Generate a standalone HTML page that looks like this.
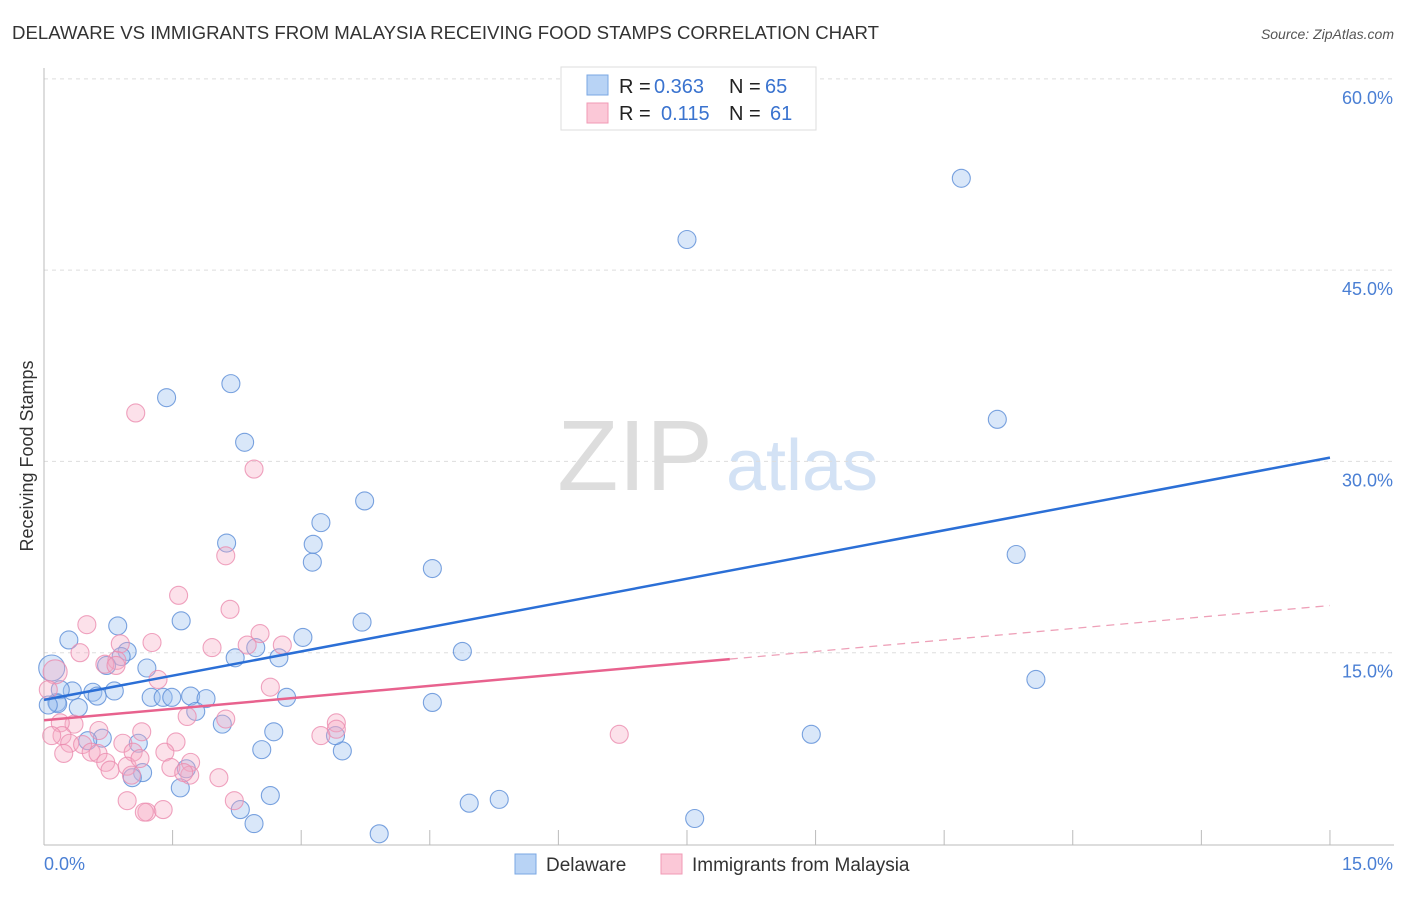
<!DOCTYPE html>
<html><head><meta charset="utf-8"><style>
body{margin:0;background:#fff;font-family:"Liberation Sans",sans-serif;}
svg text{font-family:"Liberation Sans",sans-serif;}
</style></head><body>
<svg width="1406" height="892" viewBox="0 0 1406 892" xmlns="http://www.w3.org/2000/svg">
<text x="12" y="39" font-size="18" fill="#333" textLength="867" lengthAdjust="spacingAndGlyphs">DELAWARE VS IMMIGRANTS FROM MALAYSIA RECEIVING FOOD STAMPS CORRELATION CHART</text>
<text x="1394" y="39" font-size="14" fill="#555" text-anchor="end" font-style="italic">Source: ZipAtlas.com</text>
<g>
<text x="635" y="490" font-size="100" fill="#ddd" text-anchor="middle" font-family="Liberation Serif">ZIP</text>
<text x="802" y="490" font-size="72" fill="#d3e2f5" text-anchor="middle">atlas</text>
</g>
<g id="grid"></g>
<g id="axes"></g>
<g id="pts"></g>
<g id="lines"></g>
<text transform="translate(33,456) rotate(-90)" font-size="18" fill="#333" text-anchor="middle">Receiving Food Stamps</text>
<text x="44" y="870" font-size="18" fill="#4a7fd4">0.0%</text>
<text x="1393" y="870" font-size="18" fill="#4a7fd4" text-anchor="end">15.0%</text>
<g>
<rect x="561" y="67" width="255" height="63" fill="#fff" stroke="#ddd"/>
<rect x="587" y="75" width="21" height="20" fill="#b8d3f5" stroke="#7aa7e3"/>
<rect x="587" y="103" width="21" height="20" fill="#fbc8d7" stroke="#f09ab5"/>
<text x="619" y="93" font-size="20" fill="#222">R =</text>
<text x="654" y="93" font-size="20" fill="#3a73cf">0.363</text>
<text x="729" y="93" font-size="20" fill="#222">N =</text>
<text x="765" y="93" font-size="20" fill="#3a73cf">65</text>
<text x="619" y="120" font-size="20" fill="#222">R =</text>
<text x="661" y="120" font-size="20" fill="#3a73cf">0.115</text>
<text x="729" y="120" font-size="20" fill="#222">N =</text>
<text x="770" y="120" font-size="20" fill="#3a73cf">61</text>
</g>
<g>
<rect x="515" y="854" width="21" height="20" fill="#b8d3f5" stroke="#7aa7e3"/>
<text x="546" y="871" font-size="19" fill="#333">Delaware</text>
<rect x="661" y="854" width="21" height="20" fill="#fbc8d7" stroke="#f09ab5"/>
<text x="692" y="871" font-size="19" fill="#333">Immigrants from Malaysia</text>
</g>
</svg>
<script>
const yTicks=[15,30,45,60];
const yTickLabels=["15.0%","30.0%","45.0%","60.0%"];
const xTicks=[0,1.5,3,4.5,6,7.5,9,10.5,12,13.5,15];
const blueX=[7.50,10.70,11.12,11.34,11.57,8.95,7.59,2.18,1.43,2.34,3.74,3.23,3.14,3.13,2.13,4.53,1.60,3.71,3.02,4.88,4.53,0.29,0.86,0.97,0.90,0.73,1.20,2.23,2.47,2.74,0.33,0.57,0.62,0.82,1.25,1.39,1.49,1.71,1.89,2.83,1.77,0.40,0.15,2.08,2.68,2.54,3.48,3.40,1.10,0.68,0.51,1.15,1.03,1.66,1.59,2.64,2.29,2.45,3.91,4.96,5.31,0.09,0.19,0.16,0.05];
const blueY=[47.4,52.2,33.3,22.7,12.9,8.6,2.0,36.1,35.0,31.5,26.9,25.2,23.5,22.1,23.6,21.6,17.5,17.4,16.2,15.1,11.1,16.0,17.1,15.1,14.7,14.0,13.8,14.6,15.4,14.6,12.0,11.9,11.6,12.0,11.5,11.5,11.5,11.6,11.4,11.5,10.4,10.7,11.1,9.4,8.8,7.4,7.3,8.5,7.9,8.3,8.1,5.6,5.2,5.9,4.4,3.8,2.7,1.6,0.8,3.2,3.5,13.8,12.1,11.0,10.9];
const pinkX=[1.07,2.45,2.12,1.57,2.17,0.50,1.26,0.89,2.52,2.37,2.78,1.96,0.42,0.85,0.71,0.84,1.33,2.64,0.13,0.05,1.67,2.12,3.41,3.41,3.23,6.71,0.35,0.19,0.21,0.09,0.64,1.14,0.30,0.45,0.55,0.23,0.63,0.92,1.04,1.54,1.41,0.72,0.77,0.97,1.02,1.48,1.71,1.70,2.04,0.97,1.20,1.17,1.39,2.22,1.63,1.12];
const pinkY=[33.8,29.4,22.6,19.5,18.4,17.2,15.8,15.7,16.5,15.6,15.6,15.4,15.0,14.4,14.1,14.0,12.9,12.3,13.5,12.1,10.0,9.8,9.5,9.0,8.5,8.6,9.4,9.5,8.5,8.5,8.9,8.8,7.9,7.8,7.2,7.1,7.1,7.9,7.2,8.0,7.2,6.4,5.8,6.1,5.4,6.0,6.4,5.4,5.2,3.4,2.5,2.5,2.7,3.4,5.6,6.7];
const blueTrend=[[0,11.3],[15,30.3]];
const pinkTrendSolid=[[0,9.7],[8,14.5]];
const pinkTrendDash=[[8,14.5],[15,18.7]];
const NS="http://www.w3.org/2000/svg";
const X=v=>44+v*85.73, Y=v=>844-v*12.753;
function mk(t,a,p){const e=document.createElementNS(NS,t);for(const k in a)e.setAttribute(k,a[k]);p.appendChild(e);return e;}
const grid=document.getElementById('grid'),axes=document.getElementById('axes'),pts=document.getElementById('pts'),lines=document.getElementById('lines');
yTicks.forEach((v,i)=>{
 const l=mk('line',{x1:44,x2:1394,y1:Y(v),y2:Y(v),stroke:'#ddd','stroke-dasharray':'4,4'},grid);
 
 
 const t=mk('text',{x:1393,y:Y(v)+25,'font-size':18,fill:'#4a7fd4','text-anchor':'end'},grid);
 t.textContent=yTickLabels[i];
 
 
});
const ax=mk('line',{x1:44,x2:44,y1:68,y2:845,stroke:'#bbb'},axes);


const bx=mk('line',{x1:44,x2:1394,y1:845,y2:845,stroke:'#bbb'},axes);


xTicks.forEach(v=>{
 const t=mk('line',{x1:X(v),x2:X(v),y1:830,y2:845,stroke:'#bbb'},axes);
 
 
});
function dot(x,y,fill,stroke,name,r){
 const c=mk('circle',{cx:X(x),cy:Y(y),r:r,fill:fill,stroke:stroke,'stroke-width':1.1},pts);
 
 
}
blueX.forEach((x,i)=>dot(x,blueY[i],'rgba(160,196,240,0.4)','rgba(90,140,215,0.8)','delaware-point',(i==61?13:9)));
pinkX.forEach((x,i)=>dot(x,pinkY[i],'rgba(245,170,195,0.35)','rgba(235,140,175,0.8)','malaysia-point',(i==18?12:9)));
function ln(d,col,dash,name,w){
 const l=mk('line',{x1:X(d[0][0]),y1:Y(d[0][1]),x2:X(d[1][0]),y2:Y(d[1][1]),stroke:col,'stroke-width':w},lines);
 if(dash)l.setAttribute('stroke-dasharray',dash);
 
 
}
ln(blueTrend,'#2b6fd6',null,'delaware-trend-line',2.5);
ln(pinkTrendSolid,'#e8628e',null,'malaysia-trend-line',2.5);
ln(pinkTrendDash,'#eea0b8','8,6','malaysia-trend-extension',1.3);
</script>
</body></html>
